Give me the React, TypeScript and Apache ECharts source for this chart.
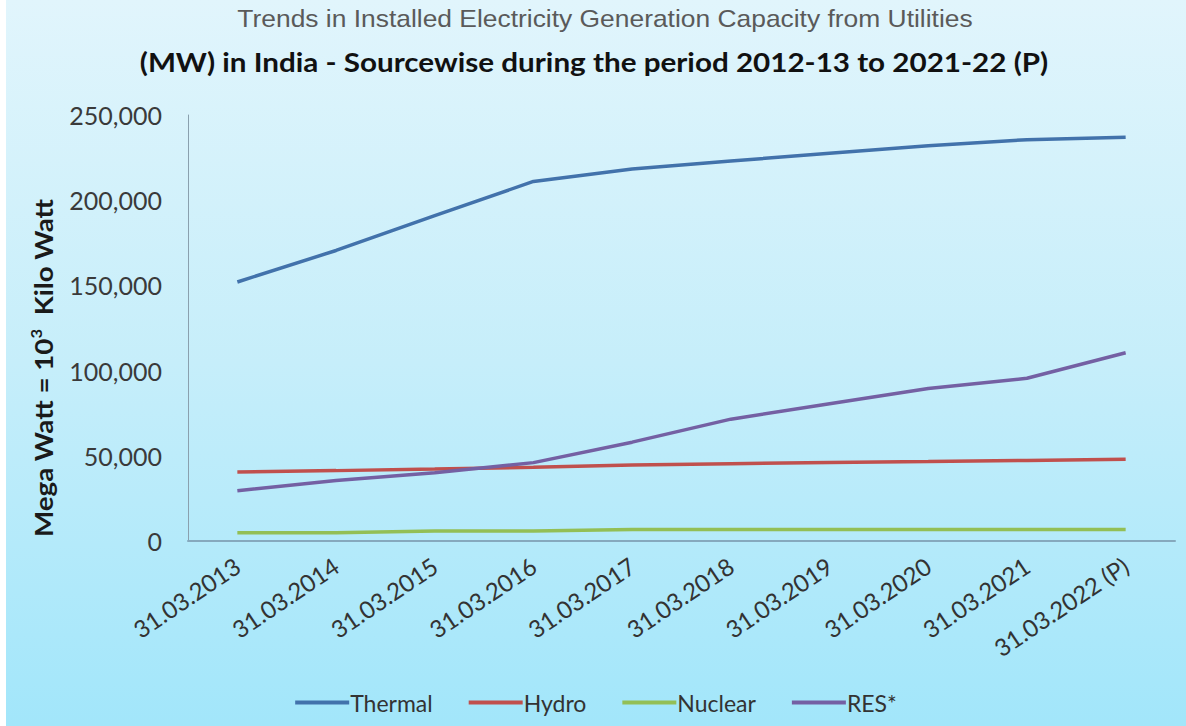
import React, { useEffect, useRef } from "react";
import * as echarts from "echarts";

// Installed capacity (MW) at the end of each financial year
const categories = [
  "31.03.2013",
  "31.03.2014",
  "31.03.2015",
  "31.03.2016",
  "31.03.2017",
  "31.03.2018",
  "31.03.2019",
  "31.03.2020",
  "31.03.2021",
  "31.03.2022 (P)",
];
const thermal = [152000, 170500, 191000, 211000, 218300, 223000, 227500, 232000, 235500, 237000];
const hydro = [40500, 41300, 42200, 43300, 44600, 45400, 46000, 46600, 47300, 48000];
const nuclear = [4800, 4800, 5800, 5800, 6800, 6800, 6800, 6800, 6800, 6800];
const res = [29500, 35500, 40000, 46000, 58000, 71500, 80500, 89500, 95500, 110500];

const seriesNames = ["Thermal", "Hydro", "Nuclear", "RES*"];
const seriesColors = ["#4272ab", "#c0504d", "#93bf55", "#7460a3"];

const titleLine1 = "Trends in Installed Electricity Generation Capacity from Utilities";
const titleLine2 = "(MW) in India - Sourcewise during the period 2012-13 to 2021-22 (P)";
const yAxisTitle = "{a|Mega Watt = 10}{s|3}{a|  Kilo Watt}";

export default function App() {
  const ref = useRef<HTMLDivElement>(null);

  useEffect(() => {
    if (!ref.current) return;
    const chart = echarts.init(ref.current, undefined, { renderer: "svg" });
    const font = "Lato, 'Open Sans', sans-serif";
    const data = [thermal, hydro, nuclear, res];

    chart.setOption({
      animation: false,
      backgroundColor: {
        type: "linear",
        x: 0,
        y: 0,
        x2: 0,
        y2: 1,
        colorStops: [
          { offset: 0, color: "#e1f5fc" },
          { offset: 0.5, color: "#c6eefa" },
          { offset: 1, color: "#a2e6fa" },
        ],
      },
      graphic: [
        {
          type: "text",
          x: 599,
          y: 18,
          scaleX: 1.1,
          style: {
            text: titleLine1,
            align: "center",
            verticalAlign: "middle",
            fontFamily: "'Liberation Sans', Arial, sans-serif",
            fontSize: 24,
            fill: "#5a5a5a",
          },
        },
        {
          type: "text",
          x: 588,
          y: 62,
          scaleX: 1.14,
          style: {
            text: titleLine2,
            align: "center",
            verticalAlign: "middle",
            fontFamily: font,
            fontWeight: "bold",
            fontSize: 26,
            fill: "#111111",
          },
        },
        {
          type: "text",
          x: 38,
          y: 368,
          rotation: Math.PI / 2,
          scaleX: 1.11,
          style: {
            text: yAxisTitle,
            align: "center",
            verticalAlign: "middle",
            rich: {
              a: { fontFamily: font, fontWeight: "bold", fontSize: 25, fill: "#1a1a1a", lineHeight: 32 },
              s: { fontFamily: font, fontWeight: "bold", fontSize: 15, fill: "#1a1a1a", verticalAlign: "top", lineHeight: 32, padding: [0, 0, 13, 0] },
            },
          },
        },
      ],
      legend: {
        bottom: 7,
        left: "center",
        icon: "rect",
        itemWidth: 54,
        itemHeight: 4,
        itemGap: 36,
        data: seriesNames,
        textStyle: { fontFamily: font, fontSize: 23, color: "#333333", padding: [0, 0, 0, -4] },
      },
      grid: { left: 182, right: 11, top: 115, bottom: 185, containLabel: false },
      xAxis: {
        type: "category",
        data: categories,
        boundaryGap: true,
        axisLine: { lineStyle: { color: "#86a9bd", width: 2 } },
        axisTick: { show: false },
        axisLabel: {
          rotate: 34,
          margin: 22,
          interval: 0,
          fontFamily: font,
          fontSize: 24,
          color: "#333333",
        },
      },
      yAxis: {
        type: "value",
        min: 0,
        max: 250000,
        interval: 50000,
        splitLine: { show: false },
        axisLine: { show: true, lineStyle: { color: "#8aa0ae", width: 1 } },
        axisTick: { show: false },
        axisLabel: {
          margin: 26,
          fontFamily: font,
          fontSize: 25,
          color: "#3a3a3a",
          formatter: (v: number) => v.toLocaleString("en-US"),
        },
      },
      series: seriesNames.map((name, i) => ({
        name,
        type: "line",
        data: data[i],
        showSymbol: false,
        symbol: "none",
        color: seriesColors[i],
        lineStyle: { width: 3.5, color: seriesColors[i] },
      })),
    });

    return () => chart.dispose();
  }, []);

  return (
    <div
      ref={ref}
      style={{ position: "absolute", left: 6, top: 0, width: 1180, height: 726 }}
    />
  );
}
